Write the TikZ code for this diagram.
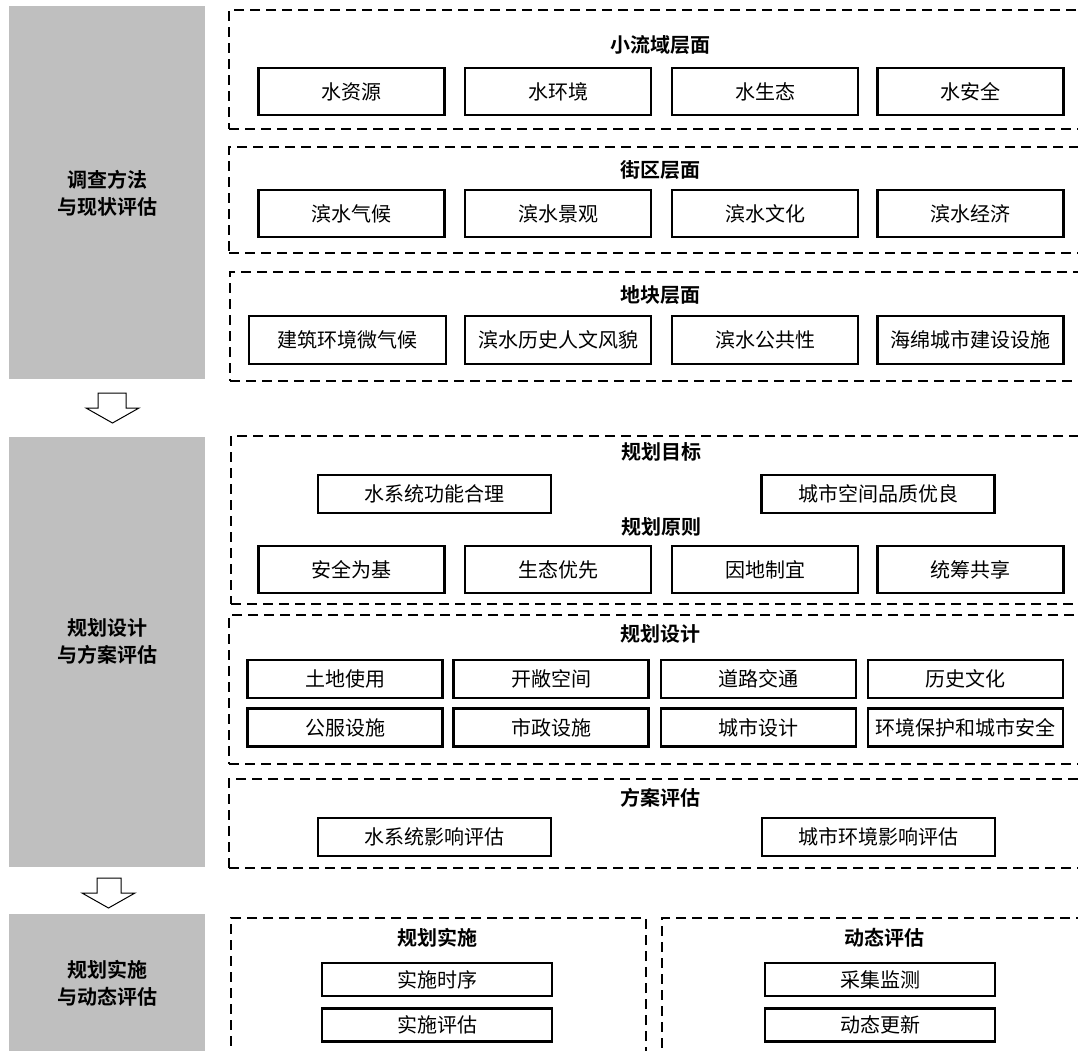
\documentclass[tikz,border=0pt]{standalone}
\usepackage{fontspec}
\setmainfont{Noto Sans CJK SC}[BoldFont={* Bold}]
\usepackage{tikz}
\usetikzlibrary{positioning}
\usepackage{xcolor}
\definecolor{panelgray}{RGB}{191,191,191}

\begin{document}
\begin{tikzpicture}[
    x=1pt, y=-1pt,
    panel/.style={fill=panelgray, minimum width=196pt, inner sep=0pt, anchor=north west},
    stagetxt/.style={align=center, inner sep=0pt, font=\bfseries\fontsize{20}{27}\selectfont},
    grp/.style={draw, line width=2.2pt, dash pattern=on 10pt off 6pt, inner sep=0pt, anchor=north west},
    ttl/.style={inner sep=0pt, font=\bfseries\fontsize{20}{24}\selectfont},
    item/.style={draw, line width=2.4pt, inner sep=0pt, font=\fontsize{20}{24}\selectfont},
    quad/.style={item, minimum width=186pt, minimum height=47pt},
    pair/.style={item, minimum width=233pt, minimum height=38pt},
    sixth/.style={item, minimum width=195pt, minimum height=38pt},
    duo/.style={item, minimum width=230pt, minimum height=33pt},
    hollow/.style={draw, line width=1pt, fill=white, line join=miter}
]
\useasboundingbox (0,0) rectangle (1078,1050);
\clip (0,0) rectangle (1078,1050);
% Stage panels
\node[panel, minimum height=373pt] (p1) at (9,6) {};
\node[panel, minimum height=430pt] (p2) at (9,437) {};
\node[panel, minimum height=140pt] (p3) at (9,914) {};
\node[stagetxt] (t1) at (107,193) {调查方法\\与现状评估};
\node[stagetxt] (t2) at (107,641) {规划设计\\与方案评估};
\node[stagetxt] (t3) at (107,983) {规划实施\\与动态评估};
% Hollow arrows between stages
\draw[hollow] (98,393) -- (126,393) -- (126,408) -- (139,408) -- (112.5,423) -- (86,408) -- (98,408) -- cycle;
\draw[hollow] (97,878) -- (121,878) -- (121,893) -- (135,893) -- (108.5,908) -- (82,893) -- (97,893) -- cycle;
% Stage 1: survey levels
\node[grp, minimum width=860pt, minimum height=119pt] (g1) at (228,9) {};
\node[ttl] (h1) at (660,45) {小流域层面};
\node[quad] (wa) at (351.5,91.5) {水资源};
\node[quad] (wb) at (558,91.5) {水环境};
\node[quad] (wc) at (765,91.5) {水生态};
\node[quad] (wd) at (970.5,91.5) {水安全};
\node[grp, minimum width=860pt, minimum height=106pt] (g2) at (228,146) {};
\node[ttl] (h2) at (660,170) {街区层面};
\node[quad] (ba) at (351.5,213.5) {滨水气候};
\node[quad] (bb) at (558,213.5) {滨水景观};
\node[quad] (bc) at (765,213.5) {滨水文化};
\node[quad] (bd) at (970.5,213.5) {滨水经济};
\node[grp, minimum width=860pt, minimum height=109pt] (g3) at (229,271) {};
\node[ttl] (h3) at (660,295) {地块层面};
\node[quad, minimum width=197pt, minimum height=48pt] (la) at (347.5,340) {建筑环境微气候};
\node[quad, minimum height=48pt] (lb) at (558,340) {滨水历史人文风貌};
\node[quad, minimum height=48pt] (lc) at (765,340) {滨水公共性};
\node[quad, minimum height=48pt] (ld) at (970.5,340) {海绵城市建设设施};
% Stage 2: goals, principles, design, evaluation
\node[grp, minimum width=860pt, minimum height=168pt] (g4) at (230,435) {};
\node[ttl] (h4) at (661,452) {规划目标};
\node[pair] (ga) at (434.5,494) {水系统功能合理};
\node[pair] (gb) at (878,494) {城市空间品质优良};
\node[ttl] (h5) at (661,527) {规划原则};
\node[quad] (pa) at (351.5,569.5) {安全为基};
\node[quad] (pb) at (558,569.5) {生态优先};
\node[quad] (pc) at (765,569.5) {因地制宜};
\node[quad] (pd) at (970.5,569.5) {统筹共享};
\node[grp, minimum width=860pt, minimum height=149pt] (g5) at (228,614) {};
\node[ttl] (h6) at (660,634) {规划设计};
\node[sixth] (da) at (345,679) {土地使用};
\node[sixth] (db) at (551,679) {开敞空间};
\node[sixth] (dc) at (758.5,679) {道路交通};
\node[sixth] (dd) at (965.5,679) {历史文化};
\node[sixth] (de) at (345,727.5) {公服设施};
\node[sixth] (df) at (551,727.5) {市政设施};
\node[sixth] (dg) at (758.5,727.5) {城市设计};
\node[sixth] (dh) at (965.5,727.5) {环境保护和城市安全};
\node[grp, minimum width=860pt, minimum height=89pt] (g6) at (228,778) {};
\node[ttl] (h7) at (660,798) {方案评估};
\node[pair] (ea) at (434.5,837) {水系统影响评估};
\node[pair] (eb) at (878.5,837) {城市环境影响评估};
% Stage 3: implementation and dynamic evaluation
\node[grp, minimum width=415pt, minimum height=140pt] (g7) at (230,917) {};
\node[ttl] (h8) at (437,938) {规划实施};
\node[duo] (ia) at (437,979.5) {实施时序};
\node[duo] (ib) at (437,1025) {实施评估};
\node[grp, minimum width=430pt, minimum height=140pt] (g8) at (661,917) {};
\node[ttl] (h9) at (884,938) {动态评估};
\node[duo] (ma) at (880,979.5) {采集监测};
\node[duo] (mb) at (880,1025) {动态更新};
\end{tikzpicture}
\end{document}
